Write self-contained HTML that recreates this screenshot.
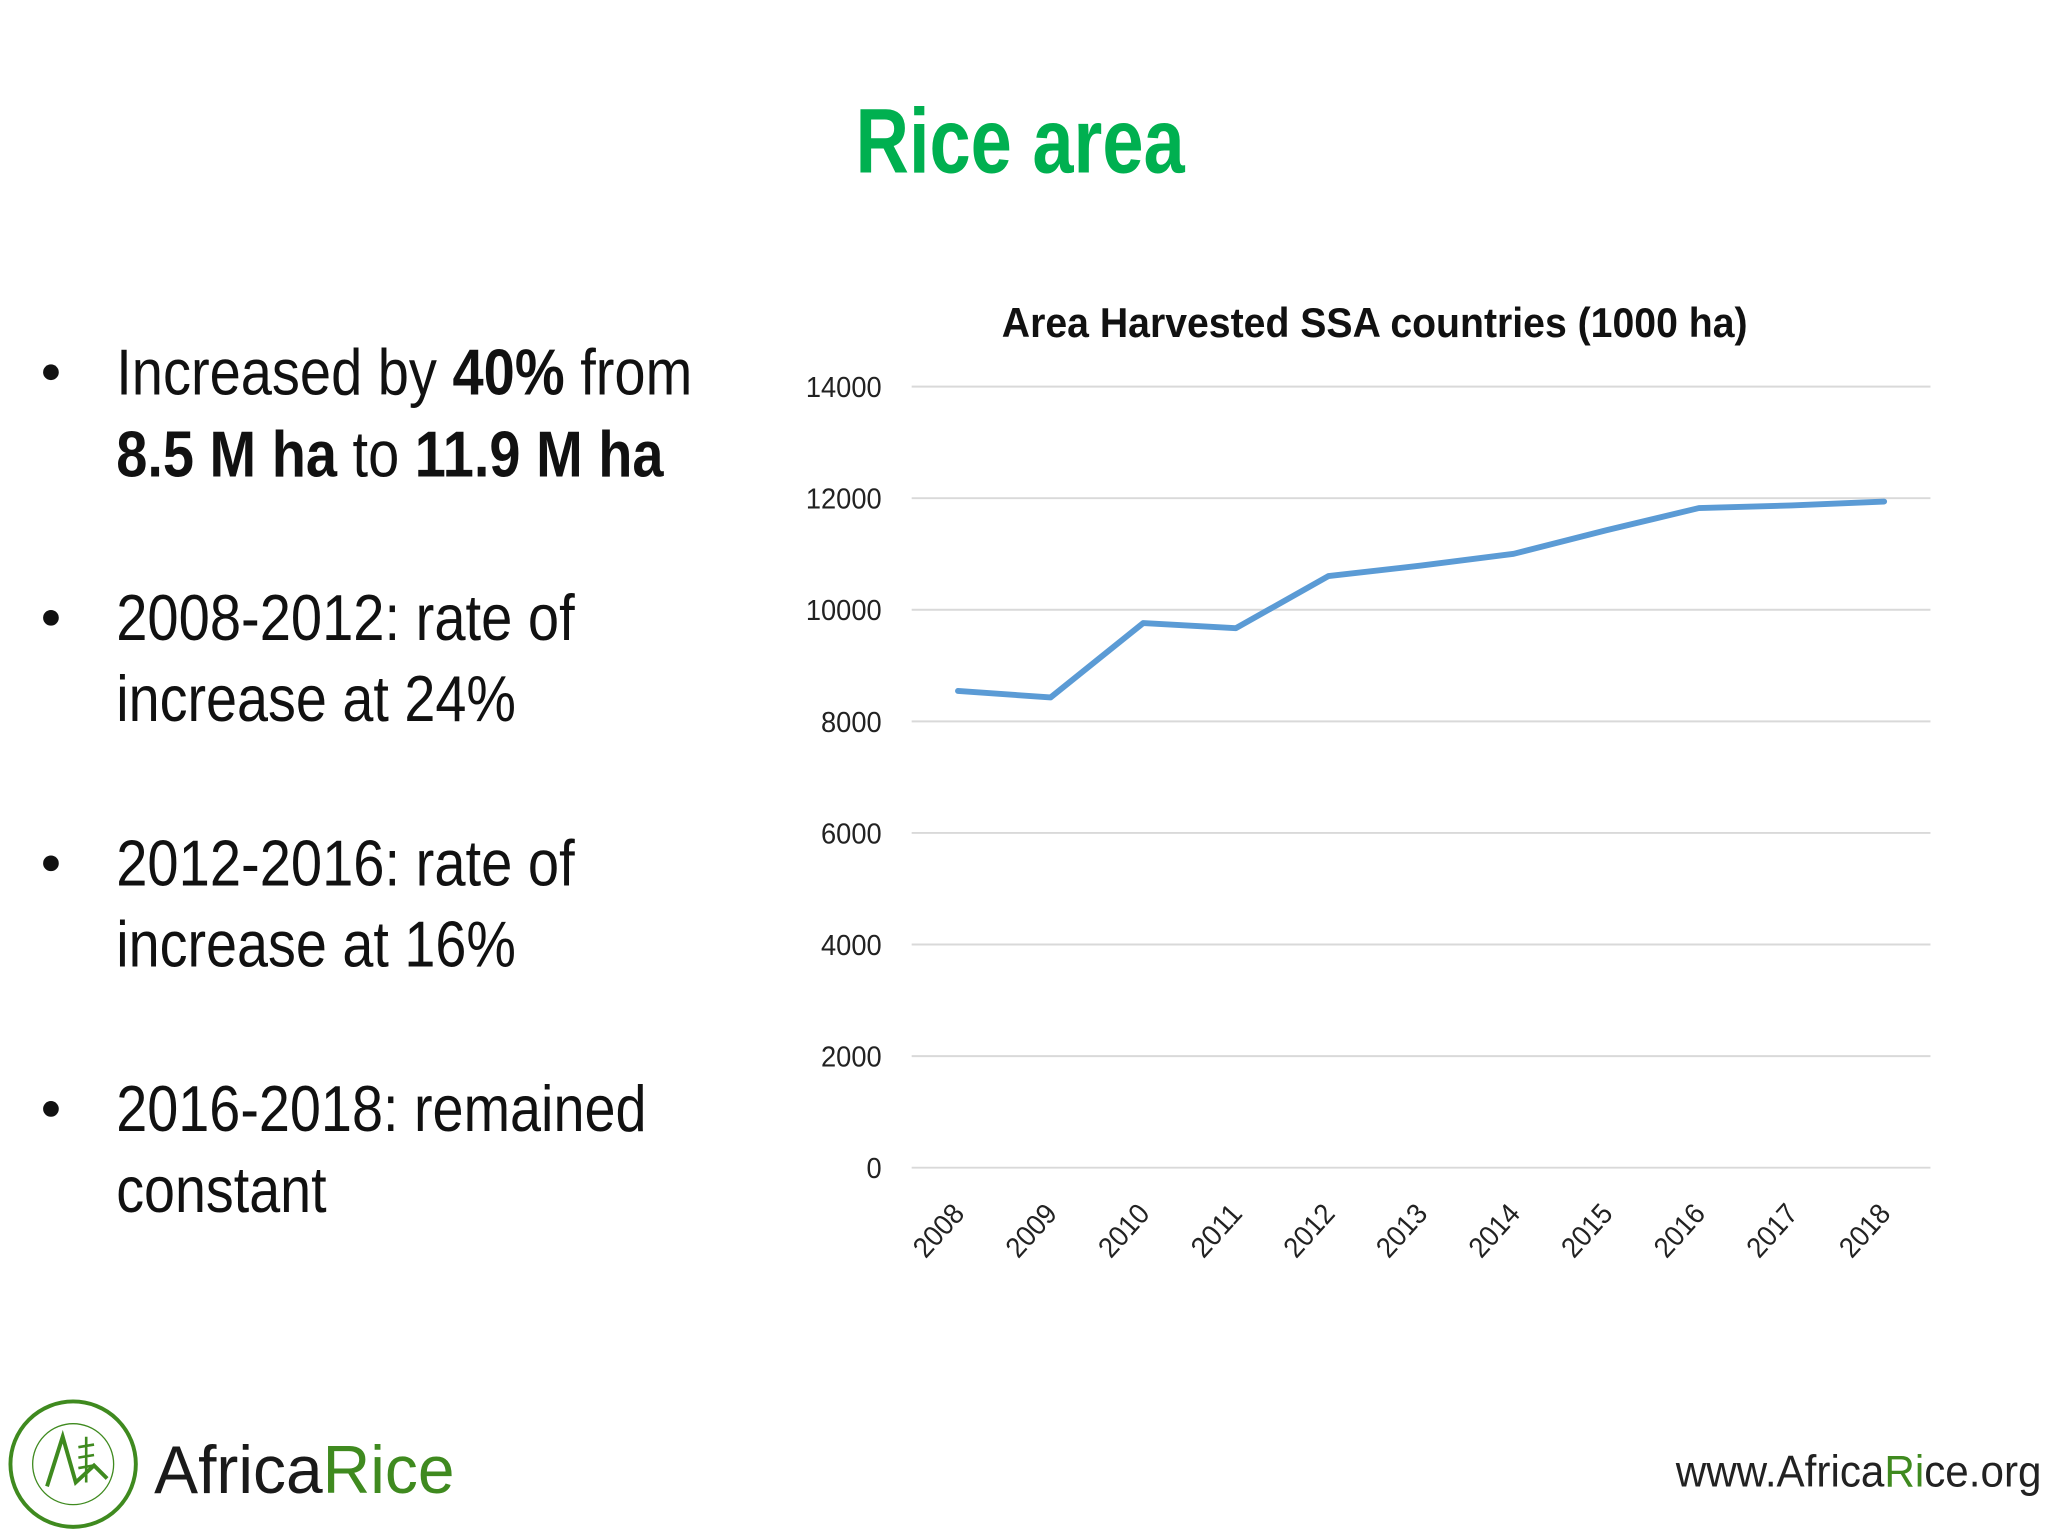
<!DOCTYPE html>
<html><head><meta charset="utf-8"><style>
html,body{margin:0;padding:0;background:#fff;}
svg{display:block;}
text{font-family:"Liberation Sans",sans-serif;}
</style></head><body>
<svg id="slide" width="2048" height="1536" viewBox="0 0 1568 1176" xmlns="http://www.w3.org/2000/svg">
<rect width="1568" height="1176" fill="#ffffff"/>
<text x="655" y="132" font-size="70" font-weight="bold" fill="#00b050" textLength="252" lengthAdjust="spacingAndGlyphs">Rice area</text>

<g font-size="50" fill="#111">
  <circle cx="39" cy="285" r="6" fill="#111"/>
  <text x="89" y="302" textLength="441" lengthAdjust="spacingAndGlyphs">Increased by <tspan font-weight="bold">40%</tspan> from</text>
  <text x="89" y="365" textLength="419" lengthAdjust="spacingAndGlyphs"><tspan font-weight="bold">8.5 M ha</tspan> to <tspan font-weight="bold">11.9 M ha</tspan></text>
  <circle cx="39" cy="473" r="6" fill="#111"/>
  <text x="89" y="490" textLength="351" lengthAdjust="spacingAndGlyphs">2008-2012: rate of</text>
  <text x="89" y="552" textLength="306" lengthAdjust="spacingAndGlyphs">increase at 24%</text>
  <circle cx="39" cy="661" r="6" fill="#111"/>
  <text x="89" y="678" textLength="351" lengthAdjust="spacingAndGlyphs">2012-2016: rate of</text>
  <text x="89" y="740" textLength="306" lengthAdjust="spacingAndGlyphs">increase at 16%</text>
  <circle cx="39" cy="849" r="6" fill="#111"/>
  <text x="89" y="866" textLength="406" lengthAdjust="spacingAndGlyphs">2016-2018: remained</text>
  <text x="89" y="928" textLength="161" lengthAdjust="spacingAndGlyphs">constant</text>
</g>

<text x="767" y="258" font-size="32" font-weight="bold" fill="#111" textLength="571" lengthAdjust="spacingAndGlyphs">Area Harvested SSA countries (1000 ha)</text>
<g id="grid"></g>
<g id="ylabels"></g>
<g id="xlabels"></g>
<g id="series"></g>

<g>
  <circle cx="56" cy="1121" r="48" fill="none" stroke="#3f8a1f" stroke-width="3"/>
  <circle cx="56" cy="1121" r="31" fill="none" stroke="#3f8a1f" stroke-width="1"/>
  <path d="M36 1138 L48 1100 L58 1135 L72 1122 L82 1132" fill="none" stroke="#3f8a1f" stroke-width="3"/>
  <path d="M66 1100 L66 1135 M60 1108 L72 1106 M60 1116 L72 1114 M60 1124 L72 1122" stroke="#3f8a1f" stroke-width="2"/>
  <text x="118" y="1143" font-size="52" fill="#1a1a1a" textLength="230" lengthAdjust="spacingAndGlyphs">Africa<tspan fill="#3f8a1f">Rice</tspan></text>
</g>
<text x="1283" y="1138" font-size="34" fill="#222" textLength="280" lengthAdjust="spacingAndGlyphs">www.Africa<tspan fill="#3f8a1f">Ri</tspan>ce.org</text>
</svg>
<script>
const categories = ["2008","2009","2010","2011","2012","2013","2014","2015","2016","2017","2018"];
const areaValues = [8545, 8428, 9762, 9669, 10605, 10792, 11003, 11425, 11823, 11870, 11940];
const yTicks = [0, 2000, 4000, 6000, 8000, 10000, 12000, 14000];
const yTickLabels = ["0","2000","4000","6000","8000","10000","12000","14000"];

const NS = "http://www.w3.org/2000/svg";
const plotLeft = 698, plotRight = 1478, plotTop = 296, plotBottom = 894, yMax = 14000;
const yScale = v => plotBottom - (v / yMax) * (plotBottom - plotTop);
const band = (plotRight - plotLeft) / categories.length;
const xScale = i => plotLeft + band * (i + 0.5);

const grid = document.getElementById('grid');
const yl = document.getElementById('ylabels');
yTicks.forEach((t, i) => {
  const ln = document.createElementNS(NS, 'line');
  
  
  ln.setAttribute('x1', plotLeft); ln.setAttribute('x2', plotRight);
  ln.setAttribute('y1', yScale(t)); ln.setAttribute('y2', yScale(t));
  ln.setAttribute('stroke', '#d9d9d9'); ln.setAttribute('stroke-width', '1.5');
  grid.appendChild(ln);
  const tx = document.createElementNS(NS, 'text');
  
  
  tx.setAttribute('x', 675); tx.setAttribute('y', yScale(t) + 8);
  tx.setAttribute('text-anchor', 'end'); tx.setAttribute('font-size', '22'); tx.setAttribute('fill', '#222');
  tx.setAttribute('textLength', yTickLabels[i].length * 11.6);
  tx.setAttribute('lengthAdjust', 'spacingAndGlyphs');
  tx.textContent = yTickLabels[i];
  yl.appendChild(tx);
});

const xl = document.getElementById('xlabels');
categories.forEach((c, i) => {
  const tx = document.createElementNS(NS, 'text');
  
  
  const x = xScale(i) + 6, y = 930;
  tx.setAttribute('x', x); tx.setAttribute('y', y);
  tx.setAttribute('text-anchor', 'end'); tx.setAttribute('font-size', '22'); tx.setAttribute('fill', '#222');
  tx.setAttribute('textLength', '46'); tx.setAttribute('lengthAdjust', 'spacingAndGlyphs');
  tx.setAttribute('transform', 'rotate(-48 ' + x + ' ' + y + ')');
  tx.textContent = c;
  xl.appendChild(tx);
});

const series = document.getElementById('series');
const pl = document.createElementNS(NS, 'polyline');


pl.setAttribute('points', areaValues.map((v, i) => xScale(i) + ',' + yScale(v)).join(' '));
pl.setAttribute('fill', 'none'); pl.setAttribute('stroke', '#5b9bd5');
pl.setAttribute('stroke-width', '4.5'); pl.setAttribute('stroke-linejoin', 'round'); pl.setAttribute('stroke-linecap', 'round');
series.appendChild(pl);
</script>
</body></html>
